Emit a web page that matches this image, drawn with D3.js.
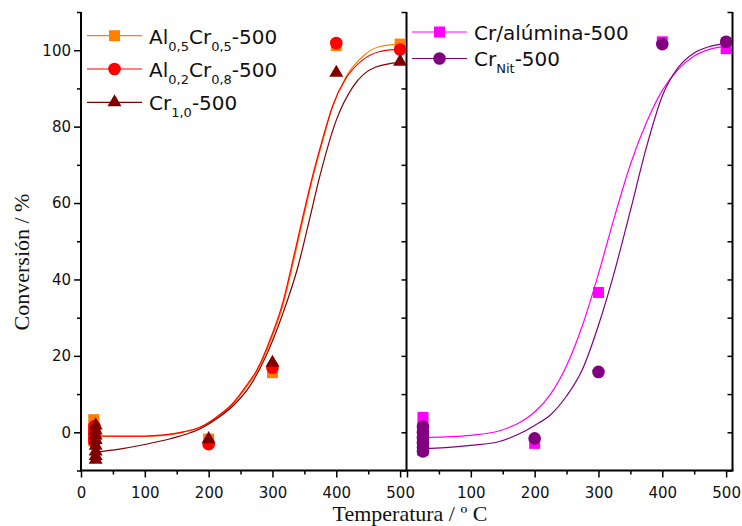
<!DOCTYPE html>
<html>
<head>
<meta charset="utf-8">
<script src="https://cdn.jsdelivr.net/npm/d3@7"></script>
<style>
    body { margin: 0; background: #fff; }
    svg { display: block; }
</style>
</head>
<body>
<div id="space"></div>
<script>
// Measured points (temperature in C, conversion in %)
var al55_t = [20, 20, 20, 20, 20, 200, 300, 400, 500];
var al55_v = [3.3, 1.0, -0.5, -1.5, -2.2, -1.8, 15.6, 101.2, 101.6];
var al28_t = [21, 21, 21, 21, 21, 200, 300, 400, 500];
var al28_v = [1.6, 0.5, -0.5, -1.5, -2.5, -3.1, 16.9, 101.9, 100.2];
var cr10_t = [23, 23, 23, 23, 23, 23, 23, 23, 200, 300, 400, 500];
var cr10_v = [1.8, 0.5, -0.8, -2.0, -3.5, -5.0, -6.2, -7.2, -1.8, 18.2, 94.1, 97.0];

var cralu_t = [25, 25, 25, 25, 25, 200, 300, 400, 500];
var cralu_v = [3.9, 1.2, -1.0, -3.0, -4.8, -2.9, 36.6, 102.2, 100.4];
var crnit_t = [25, 25, 25, 25, 25, 25, 200, 300, 400, 500];
var crnit_v = [1.5, 0.0, -1.5, -2.8, -4.0, -5.0, -1.6, 15.8, 101.6, 102.2];

// Fitted curves
var al55_fit_t = [20, 60, 100, 130, 160, 186, 210, 238, 260, 275, 298, 316, 332, 347, 363, 379, 394, 415, 441, 467, 500];
var al55_fit_v = [-1.0, -1.1, -1.1, -0.8, 0.0, 1.2, 3.5, 7.3, 12.0, 15.6, 24.3, 33.0, 44.0, 55.0, 66.5, 76.5, 85.2, 93.0, 98.3, 100.9, 101.6];
var al28_fit_v = [-0.9, -1.0, -1.0, -0.7, 0.1, 1.3, 3.7, 7.6, 12.4, 16.1, 25.0, 33.8, 45.0, 56.0, 67.2, 77.0, 85.3, 92.6, 97.4, 99.6, 100.3];
var cr10_fit_t = [23, 60, 100, 140, 170, 190, 215, 240, 265, 290, 315, 340, 357, 374, 400, 426, 462, 500];
var cr10_fit_v = [-5.2, -4.4, -3.2, -1.7, -0.2, 1.2, 3.8, 7.2, 12.2, 20.0, 30.5, 43.4, 55.0, 66.9, 81.7, 90.4, 95.6, 96.8];

var right_fit_t = [25, 60, 100, 145, 176, 200, 225, 250, 275, 300, 325, 350, 375, 400, 425, 450, 475, 500];
var cralu_fit_v = [-1.4, -1.2, -0.8, 0.4, 2.5, 5.3, 10.0, 17.4, 28.0, 41.5, 56.3, 70.1, 81.0, 89.5, 95.0, 98.5, 100.3, 101.0];
var crnit_fit_v = [-4.3, -4.0, -3.4, -2.4, -0.4, 1.8, 4.6, 9.5, 16.5, 28.0, 42.0, 58.0, 74.5, 88.0, 95.5, 99.3, 101.0, 101.8];

// Ticks
var x_major_left = [0, 100, 200, 300, 400, 500];
var x_major_right = [0, 100, 200, 300, 400, 500];
var x_minor = [50, 150, 250, 350, 450];
var y_major = [0, 20, 40, 60, 80, 100];
var y_minor = [-10, 10, 30, 50, 70, 90, 110];
var y_all = [-10, 0, 10, 20, 30, 40, 50, 60, 70, 80, 90, 100, 110];

// Legend labels: [text, is subscript]
var left_names = [
    [["Al", 0], ["0,5", 1], ["Cr", 0], ["0,5", 1], ["-500", 0]],
    [["Al", 0], ["0,2", 1], ["Cr", 0], ["0,8", 1], ["-500", 0]],
    [["Cr", 0], ["1,0", 1], ["-500", 0]]
];
var right_names = [
    [["Cr/alúmina-500", 0]],
    [["Cr", 0], ["Nit", 1], ["-500", 0]]
];

var svg, x_left, x_right, y;

init();

function init() {
    initSvg();

    x_left = d3.scaleLinear().domain([0, 510]).range([81, 406.5]);
    x_right = d3.scaleLinear().domain([0, 510]).range([407, 732.5]);
    y = d3.scaleLinear().domain([-10, 110]).range([470.5, 12]);

    drawAxes();

    //Left panel
    drawCurve(x_left, al55_fit_t, al55_fit_v, "#ff8000");
    drawCurve(x_left, al55_fit_t, al28_fit_v, "#ff0000");
    drawCurve(x_left, cr10_fit_t, cr10_fit_v, "#800000");
    drawPoints(x_left, al55_t, al55_v, d3.symbolSquare, 121, "#ff8000");
    drawPoints(x_left, al28_t, al28_v, d3.symbolCircle, 125, "#ff0000");
    drawPoints(x_left, cr10_t, cr10_v, d3.symbolTriangle, 85, "#800000");

    //Right panel
    drawCurve(x_right, right_fit_t, cralu_fit_v, "#ff00ff");
    drawCurve(x_right, right_fit_t, crnit_fit_v, "#800080");
    drawPoints(x_right, cralu_t, cralu_v, d3.symbolSquare, 121, "#ff00ff");
    drawPoints(x_right, crnit_t, crnit_v, d3.symbolCircle, 125, "#800080");

    drawLegend(left_names, [d3.symbolSquare, d3.symbolCircle, d3.symbolTriangle], [121, 125, 85],
        ["#ff8000", "#ff0000", "#800000"], 87, 35.7, 33.3);
    drawLegend(right_names, [d3.symbolSquare, d3.symbolCircle], [121, 125],
        ["#ff00ff", "#800080"], 412, 32, 26.5);
}

function initSvg() {
    svg = d3.select("#space").append("svg")
        .attr("xmlns", "http://www.w3.org/2000/svg")
        .attr("width", 742)
        .attr("height", 526);

    svg.append("rect").attr("width", 742).attr("height", 526).attr("fill", "#fff");

    //Reorder elements
    svg.append("g").attr("id", "axis");
    svg.append("g").attr("id", "path");
    svg.append("g").attr("id", "dot");
    svg.append("g").attr("id", "text");
}

/************************************************
                Axes
*************************************************/
function tickAxis(axis, tx, ty, labels) {
    var g = svg.select("#axis").append("g")
        .attr("transform", "translate(" + tx + "," + ty + ")")
        .call(axis);
    g.select(".domain").remove();
    g.selectAll(".tick line").attr("stroke", "#000").attr("stroke-width", 1.5);
    g.selectAll(".tick text")
        .attr("font-family", "DejaVu Sans, Verdana, sans-serif")
        .attr("font-size", 15)
        .attr("fill", "#111");
    if (!labels) g.selectAll(".tick text").remove();
    return g;
}

function drawAxes() {
    var x0 = x_left(0), x1 = x_right(510), y0 = y(-10), y1 = y(110);

    //Bottom axes
    tickAxis(d3.axisBottom(x_left).tickValues(x_major_left).tickSize(7).tickPadding(10), 0, y0, true);
    tickAxis(d3.axisBottom(x_left).tickValues(x_minor).tickSize(4), 0, y0, false);
    tickAxis(d3.axisBottom(x_right).tickValues(x_major_right).tickSize(7).tickPadding(10)
        .tickFormat(function (d) { return d == 0 ? "" : d; }), 0, y0, true);
    tickAxis(d3.axisBottom(x_right).tickValues(x_minor).tickSize(4), 0, y0, false);

    //Left axis
    tickAxis(d3.axisLeft(y).tickValues(y_major).tickSize(7).tickPadding(3), x0, 0, true);
    tickAxis(d3.axisLeft(y).tickValues(y_minor).tickSize(4), x0, 0, false);

    //Divider and right border, ticks pointing left
    tickAxis(d3.axisLeft(y).tickValues(y_all).tickSize(5), x_left(510), 0, false);
    tickAxis(d3.axisLeft(y).tickValues(y_all).tickSize(5), x1, 0, false);

    var lines = [[x0, y1, x0, y0], [x_left(510), y1, x_left(510), y0], [x1, y1, x1, y0], [x0 - 1, y0, x1 + 1, y0]];
    svg.select("#axis").selectAll("line.frame")
        .data(lines)
        .enter()
        .append("line")
        .attr("class", "frame")
        .attr("x1", function (d) { return d[0]; })
        .attr("y1", function (d) { return d[1]; })
        .attr("x2", function (d) { return d[2]; })
        .attr("y2", function (d) { return d[3]; })
        .attr("stroke", "#000")
        .attr("stroke-width", 2);

    //Titles
    svg.select("#text").append("text")
        .attr("transform", "translate(29," + 262 + ") rotate(-90)")
        .attr("text-anchor", "middle")
        .attr("font-family", "Liberation Serif, Times New Roman, serif")
        .attr("font-size", 22)
        .attr("fill", "#111")
        .text("Conversión / %");

    svg.select("#text").append("text")
        .attr("x", 410)
        .attr("y", 521)
        .attr("text-anchor", "middle")
        .attr("font-family", "Liberation Serif, Times New Roman, serif")
        .attr("font-size", 22)
        .attr("fill", "#111")
        .text("Temperatura / º C");
}

/************************************************
                Series
*************************************************/
function drawCurve(xs, ts, vs, color) {
    var line = d3.line()
        .x(function (d) { return xs(d[0]); })
        .y(function (d) { return y(d[1]); })
        .curve(d3.curveMonotoneX);

    svg.select("#path").append("path")
        .datum(d3.zip(ts, vs))
        .attr("d", line)
        .attr("fill", "none")
        .attr("stroke", color)
        .attr("stroke-width", 1.2);
}

function drawPoints(xs, ts, vs, shape, size, color) {
    var sym = d3.symbol().type(shape).size(size);
    svg.select("#dot").append("g")
        .selectAll("path")
        .data(d3.zip(ts, vs))
        .enter()
        .append("path")
        .attr("transform", function (d) { return "translate(" + xs(d[0]) + "," + y(d[1]) + ")"; })
        .attr("d", sym)
        .attr("fill", color);
}

/************************************************
                Legend
*************************************************/
function drawLegend(names, shapes, sizes, colors, lx, ly, step) {
    var g = svg.select("#text").append("g");

    for (var i = 0; i < names.length; i++) {
        var yy = ly + step * i;

        g.append("line")
            .attr("x1", lx).attr("x2", lx + 55)
            .attr("y1", yy).attr("y2", yy)
            .attr("stroke", colors[i])
            .attr("stroke-width", 1.2);

        g.append("path")
            .attr("transform", "translate(" + (lx + 27.5) + "," + yy + ")")
            .attr("d", d3.symbol().type(shapes[i]).size(sizes[i]))
            .attr("fill", colors[i]);

        var text = g.append("text")
            .attr("x", lx + 62)
            .attr("y", yy + 7.8)
            .attr("font-family", "DejaVu Sans, Verdana, sans-serif")
            .attr("font-size", 20)
            .attr("fill", "#111");

        var shift = 0;
        names[i].forEach(function (part) {
            var sub = part[1] == 1;
            var dy = (sub ? 7 : 0) - shift;
            shift = sub ? 7 : 0;
            text.append("tspan")
                .attr("dy", dy)
                .attr("font-size", sub ? 13 : 20)
                .text(part[0]);
        });
    }
}
</script>
</body>
</html>
